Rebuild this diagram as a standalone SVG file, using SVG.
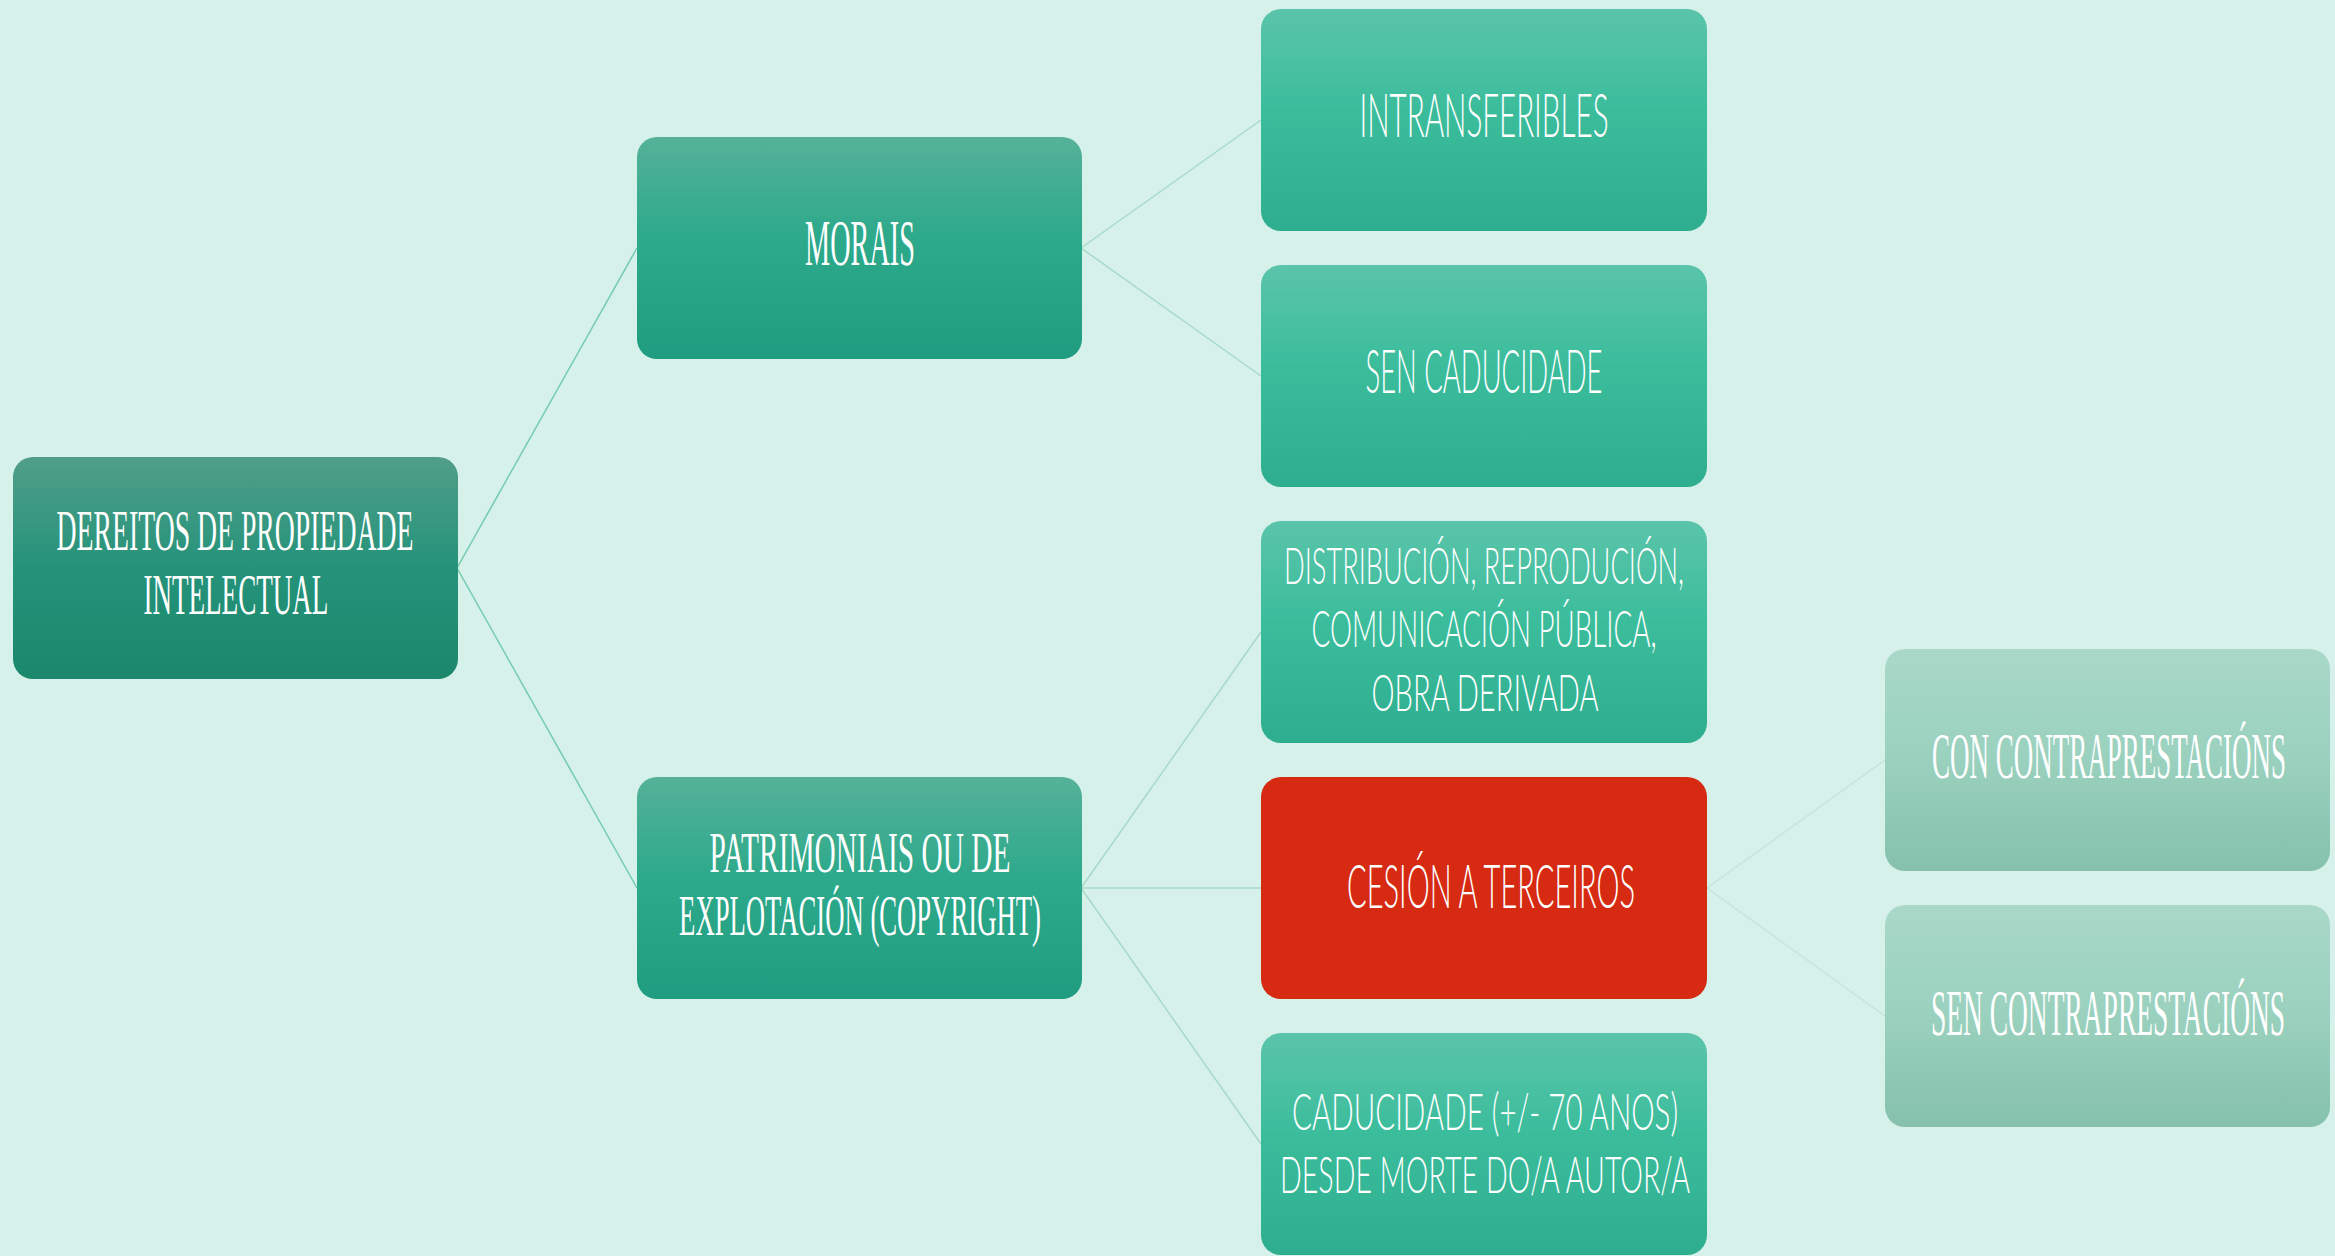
<svg xmlns="http://www.w3.org/2000/svg" width="2335" height="1256" viewBox="0 0 2335 1256">
<defs>
<linearGradient id="g1" x1="0" y1="0" x2="0" y2="1"><stop offset="0" stop-color="#519e89"/><stop offset="0.5" stop-color="#25937a"/><stop offset="1" stop-color="#1b886c"/></linearGradient>
<linearGradient id="g2" x1="0" y1="0" x2="0" y2="1"><stop offset="0" stop-color="#55b299"/><stop offset="0.45" stop-color="#2da98b"/><stop offset="1" stop-color="#209c80"/></linearGradient>
<linearGradient id="g3" x1="0" y1="0" x2="0" y2="1"><stop offset="0" stop-color="#5bc4aa"/><stop offset="0.45" stop-color="#3bbd9c"/><stop offset="1" stop-color="#2eae8f"/></linearGradient>
<linearGradient id="g4" x1="0" y1="0" x2="0" y2="1"><stop offset="0" stop-color="#a9d8c9"/><stop offset="0.5" stop-color="#9ad1be"/><stop offset="1" stop-color="#85c1ac"/></linearGradient>
<style>
.box{rx:20px;ry:20px}
.t{fill:#ffffff;font-size:66px;text-anchor:middle;font-family:"Liberation Serif","DejaVu Serif",serif}
.s{fill:#ffffff;font-size:61px;font-weight:300;text-anchor:middle;font-family:Lato,"Liberation Sans","DejaVu Sans",sans-serif}
.tm{font-size:56px}
.sm{font-size:52px}
.c1{stroke:#74cbae;stroke-width:1.5;fill:none}
.c2{stroke:#a8d9c9;stroke-width:1.5;fill:none}
.c3{stroke:#c4e5da;stroke-width:1.5;fill:none}
</style>
</defs>
<rect x="0" y="0" width="2335" height="1256" fill="#d6f1ea"/>
<g id="connectors">
<line class="c1" x1="457" y1="568" x2="637" y2="248"/>
<line class="c1" x1="457" y1="568" x2="637" y2="888"/>
<line class="c2" x1="1081" y1="248" x2="1261" y2="120"/>
<line class="c2" x1="1081" y1="248" x2="1261" y2="376"/>
<line class="c2" x1="1081" y1="888" x2="1261" y2="632"/>
<line class="c2" x1="1081" y1="888" x2="1261" y2="888"/>
<line class="c2" x1="1081" y1="888" x2="1261" y2="1144"/>
<line class="c3" x1="1707" y1="888" x2="1885" y2="760"/>
<line class="c3" x1="1707" y1="888" x2="1885" y2="1016"/>
</g>
<g id="root">
<rect class="box" x="13" y="457" width="445" height="222" fill="url(#g1)"/>
<g transform="translate(235,0) scale(0.45,1)"><text class="t tm"><tspan x="0" y="550" textLength="793" lengthAdjust="spacingAndGlyphs">DEREITOS DE PROPIEDADE</tspan><tspan x="2" y="614" textLength="411" lengthAdjust="spacingAndGlyphs">INTELECTUAL</tspan></text></g>
</g>
<g id="morais">
<rect class="box" x="637" y="137" width="445" height="222" fill="url(#g2)"/>
<g transform="translate(860,0) scale(0.45,1)"><text class="t" x="0" y="265" textLength="244" lengthAdjust="spacingAndGlyphs">MORAIS</text></g>
</g>
<g id="patrimoniais">
<rect class="box" x="637" y="777" width="445" height="222" fill="url(#g2)"/>
<g transform="translate(860,0) scale(0.45,1)"><text class="t tm"><tspan x="0" y="872" textLength="669" lengthAdjust="spacingAndGlyphs">PATRIMONIAIS OU DE</tspan><tspan x="0" y="935" textLength="804" lengthAdjust="spacingAndGlyphs">EXPLOTACIÓN (COPYRIGHT)</tspan></text></g>
</g>
<g id="intransferibles">
<rect class="box" x="1261" y="9" width="446" height="222" fill="url(#g3)"/>
<g transform="translate(1484,0) scale(0.5,1)"><text class="s" x="0" y="137" textLength="498" lengthAdjust="spacingAndGlyphs">INTRANSFERIBLES</text></g>
</g>
<g id="sen-caducidade">
<rect class="box" x="1261" y="265" width="446" height="222" fill="url(#g3)"/>
<g transform="translate(1484,0) scale(0.5,1)"><text class="s" x="0" y="393" textLength="474" lengthAdjust="spacingAndGlyphs">SEN CADUCIDADE</text></g>
</g>
<g id="distribucion">
<rect class="box" x="1261" y="521" width="446" height="222" fill="url(#g3)"/>
<g transform="translate(1484,0) scale(0.5,1)"><text class="s sm"><tspan x="0" y="584" textLength="800" lengthAdjust="spacingAndGlyphs">DISTRIBUCIÓN, REPRODUCIÓN,</tspan><tspan x="0" y="647" textLength="690" lengthAdjust="spacingAndGlyphs">COMUNICACIÓN PÚBLICA,</tspan><tspan x="2" y="711" textLength="454" lengthAdjust="spacingAndGlyphs">OBRA DERIVADA</tspan></text></g>
</g>
<g id="cesion">
<rect class="box" x="1261" y="777" width="446" height="222" fill="#d62a12"/>
<g transform="translate(1491,0) scale(0.5,1)"><text class="s" x="0" y="908" textLength="576" lengthAdjust="spacingAndGlyphs">CESIÓN A TERCEIROS</text></g>
</g>
<g id="caducidade">
<rect class="box" x="1261" y="1033" width="446" height="222" fill="url(#g3)"/>
<g transform="translate(1485,0) scale(0.5,1)"><text class="s sm"><tspan x="0" y="1130" textLength="772" lengthAdjust="spacingAndGlyphs">CADUCIDADE (+/- 70 ANOS)</tspan><tspan x="0" y="1193" textLength="820" lengthAdjust="spacingAndGlyphs">DESDE MORTE DO/A AUTOR/A</tspan></text></g>
</g>
<g id="con-contraprestacions">
<rect class="box" x="1885" y="649" width="445" height="222" fill="url(#g4)"/>
<g transform="translate(2109,0) scale(0.45,1)"><text class="t" x="0" y="778" textLength="787" lengthAdjust="spacingAndGlyphs">CON CONTRAPRESTACIÓNS</text></g>
</g>
<g id="sen-contraprestacions">
<rect class="box" x="1885" y="905" width="445" height="222" fill="url(#g4)"/>
<g transform="translate(2108,0) scale(0.45,1)"><text class="t" x="0" y="1035" textLength="787" lengthAdjust="spacingAndGlyphs">SEN CONTRAPRESTACIÓNS</text></g>
</g>
</svg>
